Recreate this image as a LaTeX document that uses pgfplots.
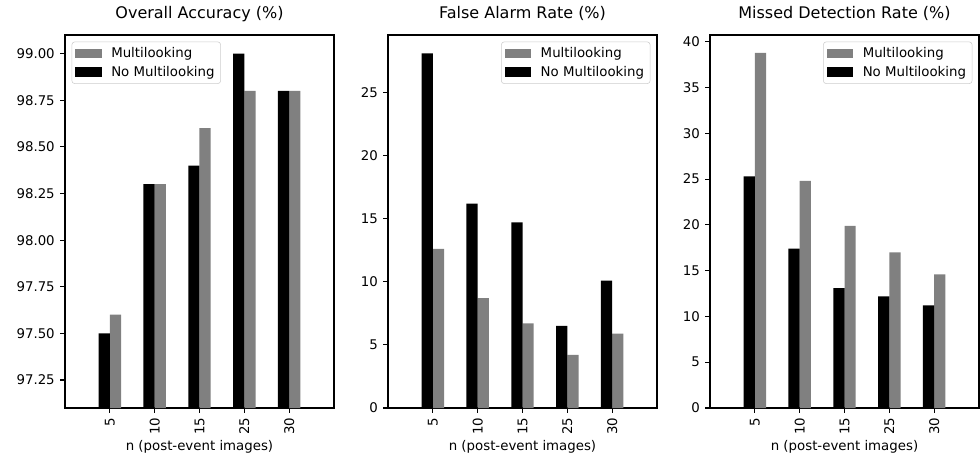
\documentclass[border=0pt]{standalone}
\usepackage{pgfplots}
\pgfplotsset{compat=1.18}
\usepackage{fontspec}
\setmainfont{DejaVu Sans}
\definecolor{mplgray}{HTML}{808080}
\pgfplotsset{
  panel/.style={
    scale only axis, width=201.75pt, height=279.75pt,
    xmin=-1, xmax=5,
    xtick={0,1,2,3,4}, xticklabels={5,10,15,25,30},
    axis line style={black, line width=0.8pt},
    every tick/.style={black, line width=0.8pt},
    major tick length=3.5pt,
    tick align=outside,
    xtick pos=bottom, ytick pos=left,
    /pgf/number format/assume math mode=true,
    tick label style={font=\fontsize{10}{12}\selectfont},
    x tick label style={rotate=90, anchor=east, inner xsep=3.5pt},
    y tick label style={anchor=east, inner xsep=4pt},
    xlabel={n (post-event images)},
    xlabel style={font=\fontsize{10}{12}\selectfont, at={(axis description cs:0.5,0)}, anchor=base, yshift=-31.5pt},
    title style={font=\fontsize{12}{14}\selectfont, at={(axis description cs:0.5,1)}, anchor=base, yshift=6.25pt},
    legend cell align=left,
    legend style={draw=black!20, rounded corners=2pt, fill=white, fill opacity=0.8, text opacity=1,
      font=\fontsize{10}{12}\selectfont, inner xsep=2.5pt, inner ysep=1.5pt, row sep=0pt,
      nodes={inner ysep=2.5pt, inner xsep=2pt},
      /tikz/every odd column/.append style={column sep=5pt}},
    clip=true,
  },
  mlbar/.style={ybar, bar width=0.25, bar shift=0.125, fill=mplgray, draw=none,
    legend image code/.code={\fill[mplgray, fill opacity=1, sharp corners] (0pt,-3.5pt) rectangle (20pt,3.5pt);}},
  nmbar/.style={ybar, bar width=0.25, bar shift=-0.125, fill=black, draw=none,
    legend image code/.code={\fill[black, fill opacity=1, sharp corners] (0pt,-3.5pt) rectangle (20pt,3.5pt);}},
}
\begin{document}
\begin{tikzpicture}
\useasboundingbox (0,0) rectangle (735pt,339.75pt);
% Panel 1
\begin{axis}[panel, at={(48.75pt,33.75pt)}, anchor=south west,
  title={Overall Accuracy (\%)},
  ymin=97.1, ymax=99.1,
  ytick={97.25,97.5,97.75,98,98.25,98.5,98.75,99},
  yticklabel style={/pgf/number format/.cd, fixed, fixed zerofill, precision=2},
  legend style={at={(0,1)}, anchor=north west, xshift=5pt, yshift=-5pt}]
\addplot[mlbar] coordinates {(0,97.6) (1,98.3) (2,98.6) (3,98.8) (4,98.8)};
\addlegendentry{Multilooking}
\addplot[nmbar] coordinates {(0,97.5) (1,98.3) (2,98.4) (3,99.0) (4,98.8)};
\addlegendentry{No Multilooking}
\end{axis}
% Panel 2
\begin{axis}[panel, at={(291pt,33.75pt)}, anchor=south west,
  title={False Alarm Rate (\%)},
  ymin=0, ymax=29.55,
  ytick={0,5,10,15,20,25},
  legend style={at={(1,1)}, anchor=north east, xshift=-5pt, yshift=-5pt}]
\addplot[mlbar] coordinates {(0,12.6) (1,8.7) (2,6.7) (3,4.2) (4,5.9)};
\addlegendentry{Multilooking}
\addplot[nmbar] coordinates {(0,28.1) (1,16.2) (2,14.7) (3,6.5) (4,10.1)};
\addlegendentry{No Multilooking}
\end{axis}
% Panel 3
\begin{axis}[panel, at={(532.5pt,33.75pt)}, anchor=south west,
  title={Missed Detection Rate (\%)},
  ymin=0, ymax=40.74,
  ytick={0,5,10,15,20,25,30,35,40},
  legend style={at={(1,1)}, anchor=north east, xshift=-5pt, yshift=-5pt}]
\addplot[mlbar] coordinates {(0,38.8) (1,24.8) (2,19.9) (3,17.0) (4,14.6)};
\addlegendentry{Multilooking}
\addplot[nmbar] coordinates {(0,25.3) (1,17.4) (2,13.1) (3,12.2) (4,11.2)};
\addlegendentry{No Multilooking}
\end{axis}
\end{tikzpicture}
\end{document}
